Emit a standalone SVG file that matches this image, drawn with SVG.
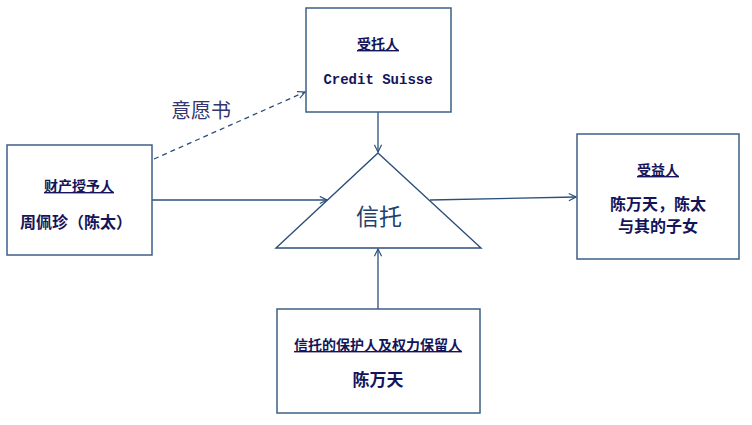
<svg xmlns="http://www.w3.org/2000/svg" width="752" height="425" viewBox="0 0 752 425">
<style>
.box{fill:#fff;stroke:#3d5f87;stroke-width:1.5}
.ln{fill:none;stroke:#2b4f7a;stroke-width:1.3}
.t{font-family:"Noto Sans CJK SC","Liberation Sans",sans-serif;font-weight:bold;fill:#14145a;text-anchor:middle}
.h{font-size:14px;text-decoration:underline}
</style>
<defs>
<marker id="ar" viewBox="0 0 10 10" refX="9" refY="5" markerWidth="9" markerHeight="9" markerUnits="userSpaceOnUse" orient="auto">
<path d="M1,1 L9,5 L1,9" fill="none" stroke="#2b4f7a" stroke-width="1.3"/>
</marker>
</defs>
<rect width="752" height="425" fill="#fff"/>
<g id="connectors">
<path class="ln" d="M378,112 L378,152" marker-end="url(#ar)"/>
<path class="ln" d="M152,200 L327,200" marker-end="url(#ar)"/>
<path class="ln" d="M430,200 L576,197" marker-end="url(#ar)"/>
<path class="ln" d="M378,309 L378,249" marker-end="url(#ar)"/>
<path class="ln" d="M154,159 L305,92" stroke-dasharray="5,4" marker-end="url(#ar)"/>
<text x="201" y="118" font-family="Noto Sans CJK SC,sans-serif" font-size="20" fill="#35356e" text-anchor="middle">意愿书</text>
</g>
<g id="settlor">
<rect class="box" x="7" y="145" width="145" height="110"/>
<text class="t h" x="79" y="191">财产授予人</text>
<text class="t" x="76" y="228" font-size="16">周佩珍（陈太）</text>
</g>
<g id="trustee">
<rect class="box" x="306" y="8" width="145" height="104"/>
<text class="t h" x="378" y="49">受托人</text>
<text x="378" y="84" font-family="Liberation Mono,monospace" font-weight="bold" font-size="14" fill="#14145a" text-anchor="middle">Credit Suisse</text>
</g>
<g id="trust">
<polygon points="378,153 481,248 276,248" fill="#fff" stroke="#2b4f7a" stroke-width="1.4"/>
<text x="379" y="225" font-family="Noto Sans CJK SC,sans-serif" font-size="23" fill="#1f3f6f" text-anchor="middle">信托</text>
</g>
<g id="beneficiary">
<rect class="box" x="577" y="134" width="162" height="125"/>
<text class="t h" x="658" y="175">受益人</text>
<text class="t" x="658" y="210" font-size="16">陈万天，陈太</text>
<text class="t" x="658" y="232" font-size="16">与其的子女</text>
</g>
<g id="protector">
<rect class="box" x="277" y="309" width="203" height="104"/>
<text class="t h" x="378" y="350" font-size="15">信托的保护人及权力保留人</text>
<text class="t" x="378" y="386" font-size="17">陈万天</text>
</g>
</svg>
